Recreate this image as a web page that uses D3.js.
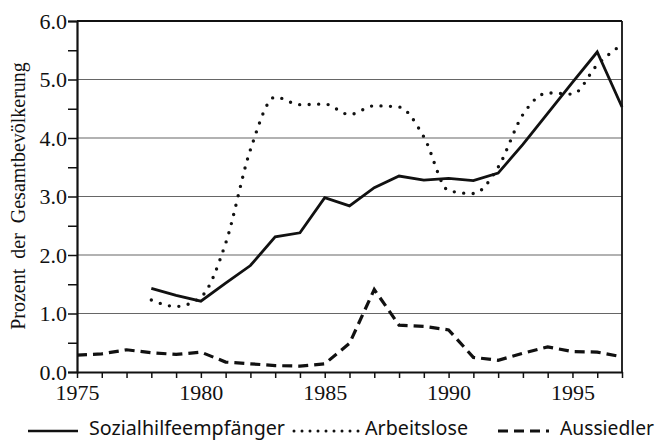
<!DOCTYPE html>
<meta charset="utf-8">
<style>
  body { margin: 0; background: #fff; }
  svg { display: block; }
  .tick-label { font-family: "Liberation Serif", serif; font-size: 22px; fill: #111; }
  .ylabel { font-family: "Liberation Serif", serif; font-size: 20px; fill: #111; }
  .legend text { font-family: "Noto Sans", sans-serif; font-size: 19px; fill: #111; }
</style>
<svg></svg>
<script src="https://cdn.jsdelivr.net/npm/d3@7"></script>
<script>
// DATA
var sozYears = [1978, 1979, 1980, 1981, 1982, 1983, 1984, 1985, 1986, 1987, 1988, 1989, 1990, 1991, 1992, 1993, 1994, 1995, 1996, 1997],
    sozVals  = [1.43, 1.31, 1.21, 1.52, 1.82, 2.31, 2.38, 2.98, 2.84, 3.15, 3.35, 3.28, 3.31, 3.27, 3.40, 3.89, 4.42, 4.95, 5.47, 4.53];

var arbYears = [1978, 1979, 1980, 1981, 1982, 1983, 1984, 1985, 1986, 1987, 1988, 1989, 1990, 1991, 1992, 1993, 1994, 1995, 1996, 1997],
    arbVals  = [1.23, 1.12, 1.28, 2.20, 3.80, 4.70, 4.57, 4.58, 4.40, 4.55, 4.53, 4.02, 3.10, 3.05, 3.50, 4.40, 4.77, 4.75, 5.25, 5.60];

var ausYears = [1975, 1976, 1977, 1978, 1979, 1980, 1981, 1982, 1983, 1984, 1985, 1986, 1987, 1988, 1989, 1990, 1991, 1992, 1993, 1994, 1995, 1996, 1997],
    ausVals  = [0.29, 0.31, 0.38, 0.33, 0.30, 0.34, 0.17, 0.14, 0.11, 0.10, 0.14, 0.49, 1.41, 0.80, 0.78, 0.72, 0.25, 0.20, 0.32, 0.43, 0.35, 0.34, 0.26];

var yTicks = [0, 1, 2, 3, 4, 5, 6],
    xTicks = [1975, 1980, 1985, 1990, 1995],
    seriesNames = ["Sozialhilfeempfänger", "Arbeitslose", "Aussiedler"],
    yTitle = "Prozent  der  Gesamtbevölkerung";

// SVG SETUP
var W = 660, H = 441;
var svg = d3.select("svg").attr("width", W).attr("height", H);

var x = d3.scaleLinear().domain([1975, 1997]).range([77, 622]);
var y = d3.scaleLinear().domain([0, 6]).range([372, 21]);

// gridlines
svg.append("g")
  .selectAll("line")
  .data(yTicks.filter(function(d) { return d > 0 && d < 6; }))
  .enter().append("line")
    .attr("x1", x(1975)).attr("x2", x(1997))
    .attr("y1", function(d) { return y(d); })
    .attr("y2", function(d) { return y(d); })
    .attr("stroke", "#666").attr("stroke-width", 1.2);

// frame top / right
svg.append("line").attr("x1", x(1975)).attr("x2", x(1997)).attr("y1", y(6)).attr("y2", y(6))
  .attr("stroke", "#111").attr("stroke-width", 1.8);
svg.append("line").attr("x1", x(1997)).attr("x2", x(1997)).attr("y1", y(6)).attr("y2", y(0))
  .attr("stroke", "#111").attr("stroke-width", 1.8);

// y axis
var yAxis = svg.append("g")
  .attr("transform", "translate(" + x(1975) + ",0)")
  .call(d3.axisLeft(y).tickValues(d3.range(0, 6.01, 0.5)).tickSize(9)
    .tickFormat(function(d) { return yTicks.indexOf(d) >= 0 ? d3.format(".1f")(d) : ""; }));
yAxis.select(".domain").attr("stroke", "#111").attr("stroke-width", 2.2);
yAxis.selectAll(".tick line").attr("stroke", "#111").attr("stroke-width", 1.5);
yAxis.selectAll(".tick text").attr("class", "tick-label")
  .attr("x", -10).attr("dy", "0.34em");

// x axis
var xAxis = svg.append("g")
  .attr("transform", "translate(0," + y(0) + ")")
  .call(d3.axisBottom(x).tickValues(d3.range(1975, 1998, 1)).tickSize(6).tickSizeOuter(0)
    .tickFormat(function(d) { return xTicks.indexOf(d) >= 0 ? d : ""; }));
xAxis.select(".domain").attr("stroke", "#111").attr("stroke-width", 2.2);
xAxis.selectAll(".tick line").attr("stroke", "#111").attr("stroke-width", 1.5);
xAxis.selectAll(".tick text").attr("class", "tick-label")
  .attr("y", 12).attr("dy", "0.71em");
svg.selectAll(".tick text").attr("fill", "#111");
svg.selectAll("g[font-family]").attr("font-family", null).attr("font-size", null);

// y title
svg.append("text")
  .attr("class", "ylabel")
  .attr("transform", "translate(25," + ((y(0) + y(6)) / 2 - 0.5) + ") rotate(-90)")
  .attr("text-anchor", "middle")
  .style("white-space", "pre")
  .text(yTitle);

// LINES
function series(years, vals) {
  return years.map(function(d, i) { return { year: d, v: vals[i] }; });
}
var line = d3.line().x(function(d) { return x(d.year); }).y(function(d) { return y(d.v); });
var smooth = d3.line().curve(d3.curveMonotoneX).x(function(d) { return x(d.year); }).y(function(d) { return y(d.v); });

var styles = [
  { width: 2.8, dash: null, cap: "butt" },
  { width: 3.4, dash: "0 9.5", cap: "round" },
  { width: 3.2, dash: "10 6", cap: "butt" }
];

svg.append("path").datum(series(arbYears, arbVals))
  .attr("d", smooth).attr("fill", "none").attr("stroke", "#111")
  .attr("stroke-width", styles[1].width).attr("stroke-dasharray", styles[1].dash).attr("stroke-linecap", "round");
svg.append("path").datum(series(sozYears, sozVals))
  .attr("d", line).attr("fill", "none").attr("stroke", "#111")
  .attr("stroke-width", styles[0].width).attr("stroke-linejoin", "miter");
svg.append("path").datum(series(ausYears, ausVals))
  .attr("d", line).attr("fill", "none").attr("stroke", "#111")
  .attr("stroke-width", styles[2].width).attr("stroke-dasharray", styles[2].dash);

// LEGEND
var legendPos = [{ x1: 28, x2: 78, tx: 89, w: 196 }, { x1: 294, x2: 362, tx: 365, w: 103 }, { x1: 498, x2: 549, tx: 560, w: 94 }];
var legend = svg.append("g").attr("class", "legend");
seriesNames.forEach(function(name, i) {
  var p = legendPos[i];
  legend.append("line").attr("x1", p.x1).attr("x2", p.x2).attr("y1", 431).attr("y2", 431)
    .attr("stroke", "#111").attr("stroke-width", i === 0 ? 2.4 : styles[i].width - 0.4)
    .attr("stroke-dasharray", i === 1 ? "0 8" : styles[i].dash).attr("stroke-linecap", styles[i].cap);
  legend.append("text").attr("x", p.tx).attr("y", 435)
    .attr("textLength", p.w).attr("lengthAdjust", "spacingAndGlyphs").text(name);
});
</script>
